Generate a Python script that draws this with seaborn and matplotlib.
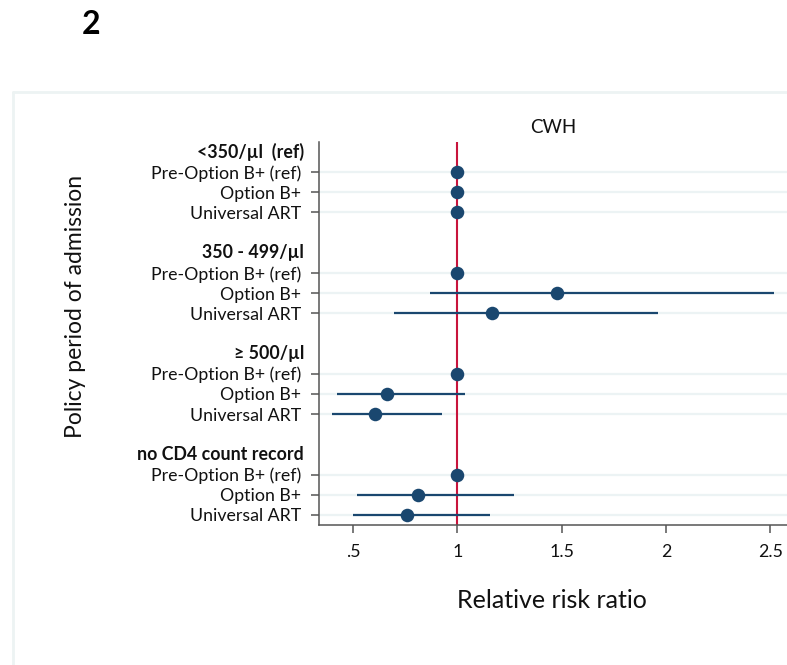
import numpy as np
import pandas as pd
import matplotlib
matplotlib.use("Agg")
import matplotlib.pyplot as plt
from matplotlib.lines import Line2D
import seaborn as sns

# ---- data -------------------------------------------------------------
groups = ["<350/\u00b5l  (ref)", "350 - 499/\u00b5l", "\u2265 500/\u00b5l", "no CD4 count record"]
periods = ["Pre-Option B+ (ref)", "Option B+", "Universal ART"]

rr = [
    [1.0, 1.0, 1.0],
    [1.0, 1.475, 1.165],
    [1.0, 0.660, 0.605],
    [1.0, 0.809, 0.759],
]
ci_low = [
    [1.0, 1.0, 1.0],
    [1.0, 0.869, 0.695],
    [1.0, 0.420, 0.397],
    [1.0, 0.519, 0.500],
]
ci_high = [
    [1.0, 1.0, 1.0],
    [1.0, 2.517, 1.959],
    [1.0, 1.038, 0.925],
    [1.0, 1.269, 1.158],
]
xticks = [0.5, 1.0, 1.5, 2.0, 2.5]
xtick_labels = [".5", "1", "1.5", "2", "2.5"]
panel_title = "CWH"
panel_tag = "2"

# ---- layout of rows: header, three periods, spacer per group ----------
rows = []
header_pos = []
slot = 0
for g, name in enumerate(groups):
    header_pos.append(slot)
    slot += 1
    for p, per in enumerate(periods):
        rows.append(dict(group=name, period=per, pos=slot,
                         rr=rr[g][p], lo=ci_low[g][p], hi=ci_high[g][p]))
        slot += 1
    slot += 1
df = pd.DataFrame(rows)
n_slots = slot - 1

# ---- styling ------------------------------------------------------------
sns.set_theme(style="white")
plt.rcParams["font.family"] = ["Lato", "DejaVu Sans"]

navy = "#1a476f"
red = "#c8143c"
grid_c = "#ecf3f4"
axis_c = "#555555"
txt_c = "#111111"
fs_tick = 12.8

W, H = 787, 665
fig = plt.figure(figsize=(W / 100, H / 100), dpi=100)
fig.patch.set_facecolor("white")

ax_left, ax_right, ax_top, ax_bot = 319, 787, 141.7, 525
ax = fig.add_axes([ax_left / W, 1 - ax_bot / H,
                   (ax_right - ax_left) / W, (ax_bot - ax_top) / H])

# horizontal guide lines at each row
for y in df["pos"]:
    ax.axhline(y, color=grid_c, lw=1.6, zorder=0)

# reference line at RR = 1
ax.axvline(1.0, color=red, lw=1.5, zorder=1)

# confidence intervals
ax.hlines(df["pos"], df["lo"], df["hi"], color=navy, lw=1.6, zorder=2)

# point estimates
sns.scatterplot(data=df, x="rr", y="pos", ax=ax, color=navy, s=95,
                edgecolor=navy, linewidth=0, zorder=3, legend=False)

ax.set_xlim(0.336, 1 + (ax_right - 457.3) / 208.7)
ax.set_ylim(n_slots - 0.5, -0.5)

ax.set_yticks(df["pos"])
ax.set_yticklabels(df["period"], fontsize=fs_tick, color=txt_c)
ax.set_xticks(xticks)
ax.set_xticklabels(xtick_labels, fontsize=fs_tick, color=txt_c)
ax.set_xlabel("")
ax.set_ylabel("")

ax.tick_params(axis="both", which="major", length=6, width=1.1, color=axis_c,
               left=True, bottom=True)
ax.tick_params(axis="y", pad=7)
ax.tick_params(axis="x", pad=8)

for side in ["top", "right"]:
    ax.spines[side].set_visible(False)
for side in ["left", "bottom"]:
    ax.spines[side].set_color(axis_c)
    ax.spines[side].set_linewidth(1.1)

# bold group headers aligned with the tick labels
ytr = ax.get_yaxis_transform()
hx = -(ax_left - 304) / (ax_right - ax_left)
for name, pos in zip(groups, header_pos):
    ax.text(hx, pos, name, transform=ytr, ha="right", va="center",
            fontsize=fs_tick, fontweight="bold", color=txt_c, clip_on=False)

ax.set_title(panel_title, fontsize=13.5, color=txt_c, pad=6)

# axis titles
fig.text(552 / W, 1 - 600 / H, "Relative risk ratio", ha="center", va="center",
         fontsize=18, color=txt_c)
fig.text(76 / W, 1 - 306 / H, "Policy period of admission", ha="center",
         va="center", rotation=90, fontsize=16.5, color=txt_c)

# panel tag
fig.text(91 / W, 1 - 25 / H, panel_tag, ha="center", va="center",
         fontsize=23, fontweight="bold", color="black")

# light frame of the graph region
fx0, fy0 = 13 / W, 1 - 92 / H
fig.add_artist(Line2D([fx0, fx0], [0, fy0], transform=fig.transFigure,
                      color="#edf3f3", lw=2))
fig.add_artist(Line2D([fx0, 1], [fy0, fy0], transform=fig.transFigure,
                      color="#edf3f3", lw=2))

fig.savefig("out.png", dpi=100, facecolor="white")
